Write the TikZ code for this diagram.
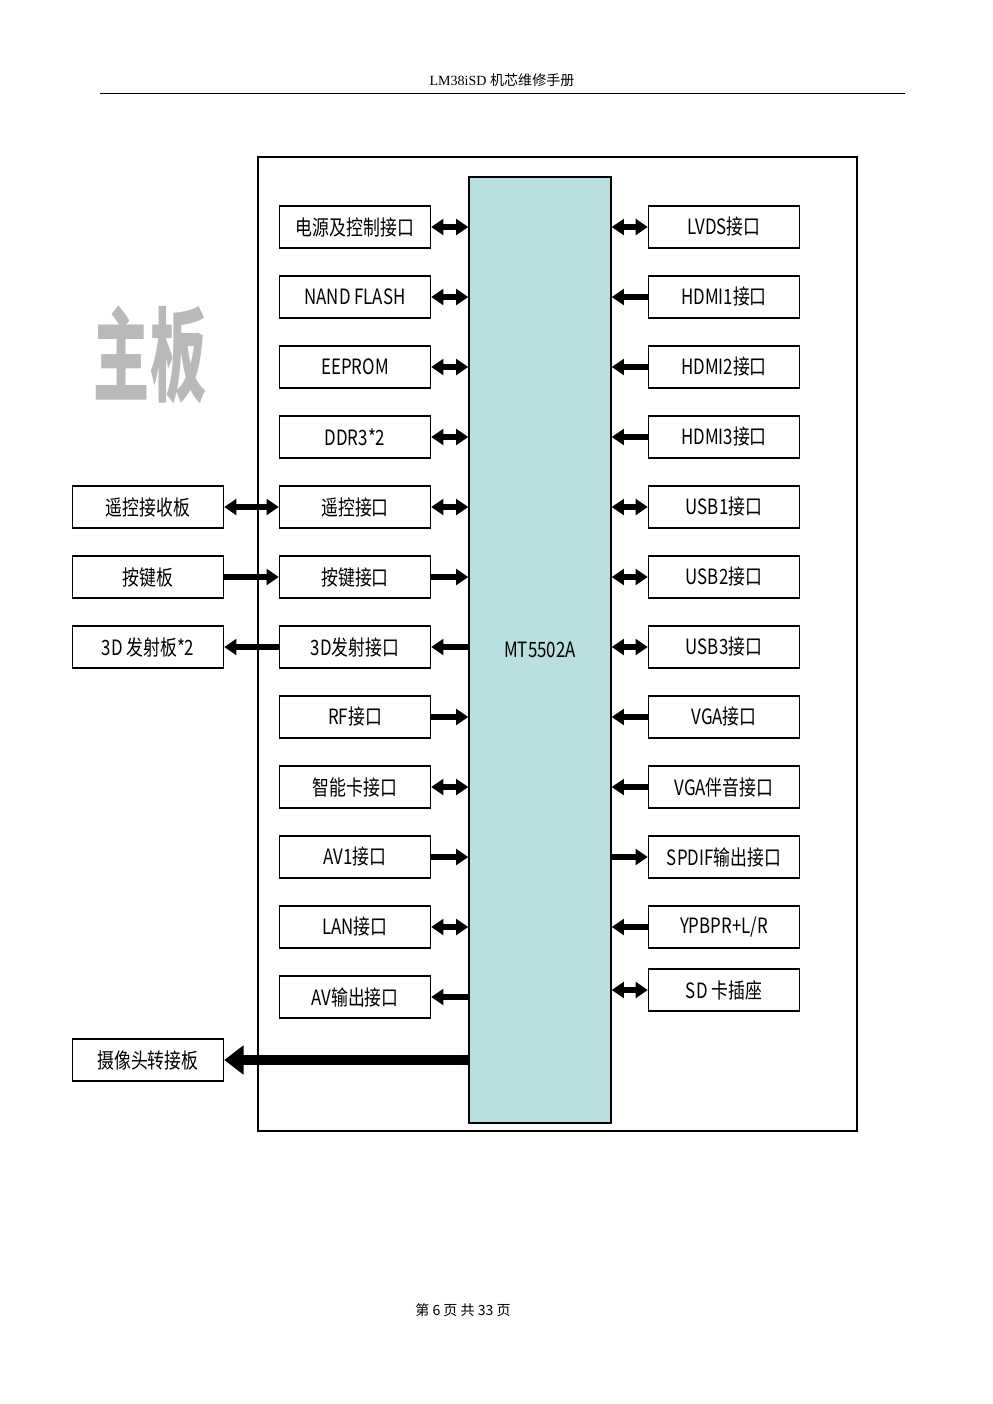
\documentclass[tikz,border=0pt]{standalone}
\usepackage{fontspec}
\newfontfamily\cjk{Noto Sans CJK SC}
\newfontfamily\cjkserif{Liberation Serif}
\usetikzlibrary{arrows.meta}
\definecolor{chipblue}{RGB}{185,223,225}
\newcommand{\narrow}[1]{\scalebox{0.8}[1]{#1}}
\begin{document}
\begin{tikzpicture}[
  x=0.02cm, y=-0.02cm,
  box/.style={draw, thick, minimum width=3.02cm, minimum height=0.84cm, inner sep=0pt,
    font=\cjk\fontsize{12}{14}\selectfont},
  chip/.style={draw, thick, fill=chipblue, minimum width=2.84cm, minimum height=18.92cm,
    font=\cjk\fontsize{12}{14}\selectfont},
  bus/.style={line width=3pt, -{Triangle[length=7pt,width=9pt]}},
  dbus/.style={line width=3pt, {Triangle[length=7pt,width=9pt]}-{Triangle[length=7pt,width=9pt]}},
  bigbus/.style={line width=6pt, -{Triangle[length=11pt,width=16pt]}}
  ]
	\useasboundingbox (0,0) rectangle (993,1404);
	\node[font=\cjkserif\fontsize{8}{10}\selectfont] (head) at (502,80) {LM38iSD {\cjk 机芯维修手册}};
	\draw (100,93) -- (905,93);
	\node[font=\cjk\fontsize{8}{10}\selectfont] (foot) at (463,1310) {第 6 页 共 33 页};

	\draw[thick] (258,157) rectangle (857,1131);
	\node[chip] (mt) at (540,650) {\narrow{MT5502A}};
	\node[font=\cjk\bfseries\fontsize{58}{62}\selectfont, text=gray!55] (title) at (150,355) {\scalebox{0.55}[1]{主板}};

	% left column
	\node[box] (l1) at (355,227) {\narrow{电源及控制接口}};
	\node[box] (l2) at (355,297) {\narrow{NAND FLASH}};
	\node[box] (l3) at (355,367) {\narrow{EEPROM}};
	\node[box] (l4) at (355,437) {\narrow{DDR3*2}};
	\node[box] (l5) at (355,507) {\narrow{遥控接口}};
	\node[box] (l6) at (355,577) {\narrow{按键接口}};
	\node[box] (l7) at (355,647) {\narrow{3D发射接口}};
	\node[box] (l8) at (355,717) {\narrow{RF接口}};
	\node[box] (l9) at (355,787) {\narrow{智能卡接口}};
	\node[box] (l10) at (355,857) {\narrow{AV1接口}};
	\node[box] (l11) at (355,927) {\narrow{LAN接口}};
	\node[box] (l12) at (355,997) {\narrow{AV输出接口}};

	% right column
	\node[box] (r1) at (724,227) {\narrow{LVDS接口}};
	\node[box] (r2) at (724,297) {\narrow{HDMI1接口}};
	\node[box] (r3) at (724,367) {\narrow{HDMI2接口}};
	\node[box] (r4) at (724,437) {\narrow{HDMI3接口}};
	\node[box] (r5) at (724,507) {\narrow{USB1接口}};
	\node[box] (r6) at (724,577) {\narrow{USB2接口}};
	\node[box] (r7) at (724,647) {\narrow{USB3接口}};
	\node[box] (r8) at (724,717) {\narrow{VGA接口}};
	\node[box] (r9) at (724,787) {\narrow{VGA伴音接口}};
	\node[box] (r10) at (724,857) {\narrow{SPDIF输出接口}};
	\node[box] (r11) at (724,927) {\narrow{YPBPR+L/R}};
	\node[box] (r12) at (724,990) {\narrow{SD 卡插座}};

	% outer boards
	\node[box] (o1) at (148,507) {\narrow{遥控接收板}};
	\node[box] (o2) at (148,577) {\narrow{按键板}};
	\node[box] (o3) at (148,647) {\narrow{3D 发射板*2}};
	\node[box] (o4) at (148,1060) {\narrow{摄像头转接板}};

	\draw[dbus] (l1) -- (l1 -| mt.west);
	\draw[dbus] (l2) -- (l2 -| mt.west);
	\draw[dbus] (l3) -- (l3 -| mt.west);
	\draw[dbus] (l4) -- (l4 -| mt.west);
	\draw[dbus] (l5) -- (l5 -| mt.west);
	\draw[bus] (l6) -- (l6 -| mt.west);
	\draw[bus] (l7 -| mt.west) -- (l7);
	\draw[bus] (l8) -- (l8 -| mt.west);
	\draw[dbus] (l9) -- (l9 -| mt.west);
	\draw[bus] (l10) -- (l10 -| mt.west);
	\draw[dbus] (l11) -- (l11 -| mt.west);
	\draw[bus] (l12 -| mt.west) -- (l12);

	\draw[dbus] (r1) -- (r1 -| mt.east);
	\draw[bus] (r2) -- (r2 -| mt.east);
	\draw[bus] (r3) -- (r3 -| mt.east);
	\draw[bus] (r4) -- (r4 -| mt.east);
	\draw[dbus] (r5) -- (r5 -| mt.east);
	\draw[dbus] (r6) -- (r6 -| mt.east);
	\draw[dbus] (r7) -- (r7 -| mt.east);
	\draw[bus] (r8) -- (r8 -| mt.east);
	\draw[bus] (r9) -- (r9 -| mt.east);
	\draw[bus] (r10 -| mt.east) -- (r10);
	\draw[bus] (r11) -- (r11 -| mt.east);
	\draw[dbus] (r12) -- (r12 -| mt.east);

	\draw[dbus] (o1) -- (l5);
	\draw[bus] (o2) -- (l6);
	\draw[bus] (l7) -- (o3);
	\draw[bigbus] (o4 -| mt.west) -- (o4);
\end{tikzpicture}
\end{document}
